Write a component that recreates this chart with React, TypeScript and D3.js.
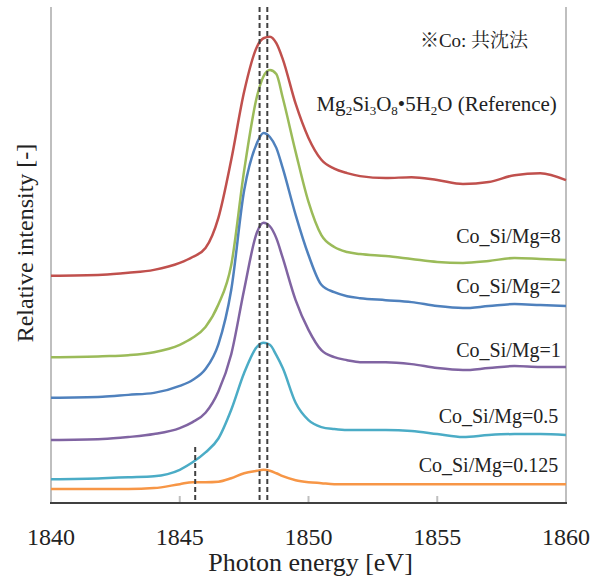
import React from "react";
import * as d3 from "d3";

// energy grid (eV) shared by all spectra
const energies = [
  1840, 1842, 1843, 1844, 1845, 1845.5, 1846, 1846.5, 1847, 1847.5, 1848,
  1848.25, 1848.5, 1848.75, 1849, 1849.5, 1850, 1850.5, 1851, 1851.5, 1852,
  1853, 1854, 1855, 1856, 1857, 1858, 1859, 1860,
];

// relative intensity, offset stacked as in the figure
const refVals = [
  4.58, 4.6, 4.64, 4.7, 4.84, 4.96, 5.14, 5.75, 6.92, 8.29, 9.2, 9.37, 9.4,
  9.27, 8.95, 8.05, 7.36, 6.92, 6.74, 6.65, 6.59, 6.55, 6.57, 6.51, 6.43, 6.47,
  6.61, 6.65, 6.51,
];
const si8Vals = [
  2.94, 2.96, 2.98, 3.04, 3.19, 3.33, 3.55, 4.0, 4.8, 6.7, 8.2, 8.6, 8.73,
  8.65, 8.17, 7.08, 6.07, 5.4, 5.16, 5.06, 5.02, 4.98, 4.92, 4.86, 4.84, 4.88,
  4.94, 4.92, 4.9,
];
const si2Vals = [
  2.12, 2.14, 2.18, 2.22, 2.36, 2.48, 2.7, 3.2, 4.3, 6.3, 7.26, 7.46, 7.38,
  7.16, 6.75, 5.81, 5.0, 4.4, 4.25, 4.17, 4.13, 4.09, 4.05, 3.97, 3.93, 3.97,
  4.01, 3.99, 3.97,
];
const si1Vals = [
  1.27, 1.29, 1.33, 1.39, 1.51, 1.63, 1.82, 2.25, 3.0, 4.3, 5.46, 5.65, 5.58,
  5.34, 4.94, 4.09, 3.49, 3.08, 2.94, 2.88, 2.84, 2.84, 2.8, 2.72, 2.68, 2.72,
  2.76, 2.74, 2.74,
];
const si05Vals = [
  0.48, 0.5, 0.52, 0.54, 0.67, 0.82, 1.02, 1.3, 1.88, 2.62, 3.15, 3.23, 3.19,
  2.98, 2.72, 2.02, 1.67, 1.53, 1.49, 1.47, 1.47, 1.47, 1.45, 1.39, 1.33, 1.37,
  1.39, 1.39, 1.37,
];
const si0125Vals = [
  0.28, 0.28, 0.28, 0.3, 0.38, 0.42, 0.42, 0.43, 0.5, 0.6, 0.65, 0.67, 0.65,
  0.6, 0.54, 0.46, 0.42, 0.4, 0.38, 0.38, 0.38, 0.38, 0.38, 0.38, 0.38, 0.38,
  0.38, 0.38, 0.38,
];

const seriesNames = [
  "Reference",
  "Co_Si/Mg=8",
  "Co_Si/Mg=2",
  "Co_Si/Mg=1",
  "Co_Si/Mg=0.5",
  "Co_Si/Mg=0.125",
];
const seriesVals = [refVals, si8Vals, si2Vals, si1Vals, si05Vals, si0125Vals];
const seriesColors = ["#C0504D", "#9BBB59", "#4F81BD", "#8064A2", "#4BACC6", "#F79646"];

// label placement in data units: [energy at right end, intensity at baseline]
const labelPos = [
  [1859.8, 7.91],
  [1859.8, 5.24],
  [1859.8, 4.23],
  [1859.8, 2.94],
  [1859.7, 1.61],
  [1859.7, 0.62],
];

const xTicks = [1840, 1845, 1850, 1855, 1860];
const dashLong = [1848.1, 1848.4];
const dashShort = { e: 1845.6, top: 1.13 };

const W = 592;
const H = 580;
const m = { left: 51, right: 26, top: 7, bottom: 77 };
const serif = '"Liberation Serif", "Times New Roman", serif';
const cjk = '"Liberation Serif", "Noto Serif CJK JP", serif';

export default function App() {
  const x = d3
    .scaleLinear()
    .domain([1840, 1860])
    .range([m.left, W - m.right]);
  const y = d3
    .scaleLinear()
    .domain([0, 10])
    .range([H - m.bottom, m.top]);

  const line = d3
    .line<number>()
    .x((d, i) => x(energies[i]))
    .y((d) => y(d))
    .curve(d3.curveMonotoneX);

  const y0 = y(0);
  const y1 = y(10);
  const txt = { fontFamily: serif, fill: "#222" };

  return (
    <svg
      width={W}
      height={H}
      style={{ position: "absolute", left: 0, top: 0, background: "#fff" }}
    >
      {/* frame: grey side lines, dark bottom axis */}
      <line x1={x(1840)} x2={x(1840)} y1={y1} y2={y0} stroke="#bfbfbf" strokeWidth={2} />
      <line x1={x(1860)} x2={x(1860)} y1={y1} y2={y0} stroke="#bfbfbf" strokeWidth={2} />

      {seriesVals.map((vals, i) => (
        <path
          key={seriesNames[i]}
          d={line(vals) || ""}
          fill="none"
          stroke={seriesColors[i]}
          strokeWidth={2.5}
          strokeLinejoin="round"
        />
      ))}

      {dashLong.map((e) => (
        <line
          key={e}
          x1={x(e)}
          x2={x(e)}
          y1={y1}
          y2={y0}
          stroke="#404040"
          strokeWidth={2}
          strokeDasharray="5,3"
        />
      ))}
      <line
        x1={x(dashShort.e)}
        x2={x(dashShort.e)}
        y1={y(dashShort.top)}
        y2={y0}
        stroke="#404040"
        strokeWidth={2}
        strokeDasharray="5,3"
      />

      {xTicks.map((t) => (
        <g key={t}>
          <line x1={x(t)} x2={x(t)} y1={y0} y2={y0 - 7} stroke="#bfbfbf" strokeWidth={2} />
          <text x={x(t)} y={545} textAnchor="middle" fontSize={24} style={txt}>
            {t}
          </text>
        </g>
      ))}
      <line x1={x(1840) - 1} x2={x(1860) + 1} y1={y0} y2={y0} stroke="#404040" strokeWidth={2} />

      <text
        x={(x(1840) + x(1860)) / 2 + 2}
        y={571}
        textAnchor="middle"
        fontSize={26}
        style={txt}
      >
        Photon energy [eV]
      </text>
      <text
        transform={`translate(33, ${(y0 + y1) / 2 - 12}) rotate(-90)`}
        textAnchor="middle"
        fontSize={24}
        style={txt}
      >
        Relative intensity [-]
      </text>

      <text
        x={474}
        y={47}
        textAnchor="middle"
        fontSize={19}
        style={{ fontFamily: cjk, fill: "#222" }}
      >
        ※Co: 共沈法
      </text>

      <text
        x={x(labelPos[0][0]) - 4}
        y={y(labelPos[0][1])}
        textAnchor="end"
        fontSize={21}
        style={txt}
      >
        Mg<tspan fontSize={13} dy={4}>2</tspan>
        <tspan dy={-4}>Si</tspan>
        <tspan fontSize={13} dy={4}>3</tspan>
        <tspan dy={-4}>O</tspan>
        <tspan fontSize={13} dy={4}>8</tspan>
        <tspan dy={-4}>•5H</tspan>
        <tspan fontSize={13} dy={4}>2</tspan>
        <tspan dy={-4}>O (Reference)</tspan>
      </text>
      {seriesNames.slice(1).map((n, k) => {
        const p = labelPos[k + 1];
        return (
          <text
            key={n}
            x={x(p[0])}
            y={y(p[1])}
            textAnchor="end"
            fontSize={20}
            style={txt}
          >
            {n}
          </text>
        );
      })}
    </svg>
  );
}
